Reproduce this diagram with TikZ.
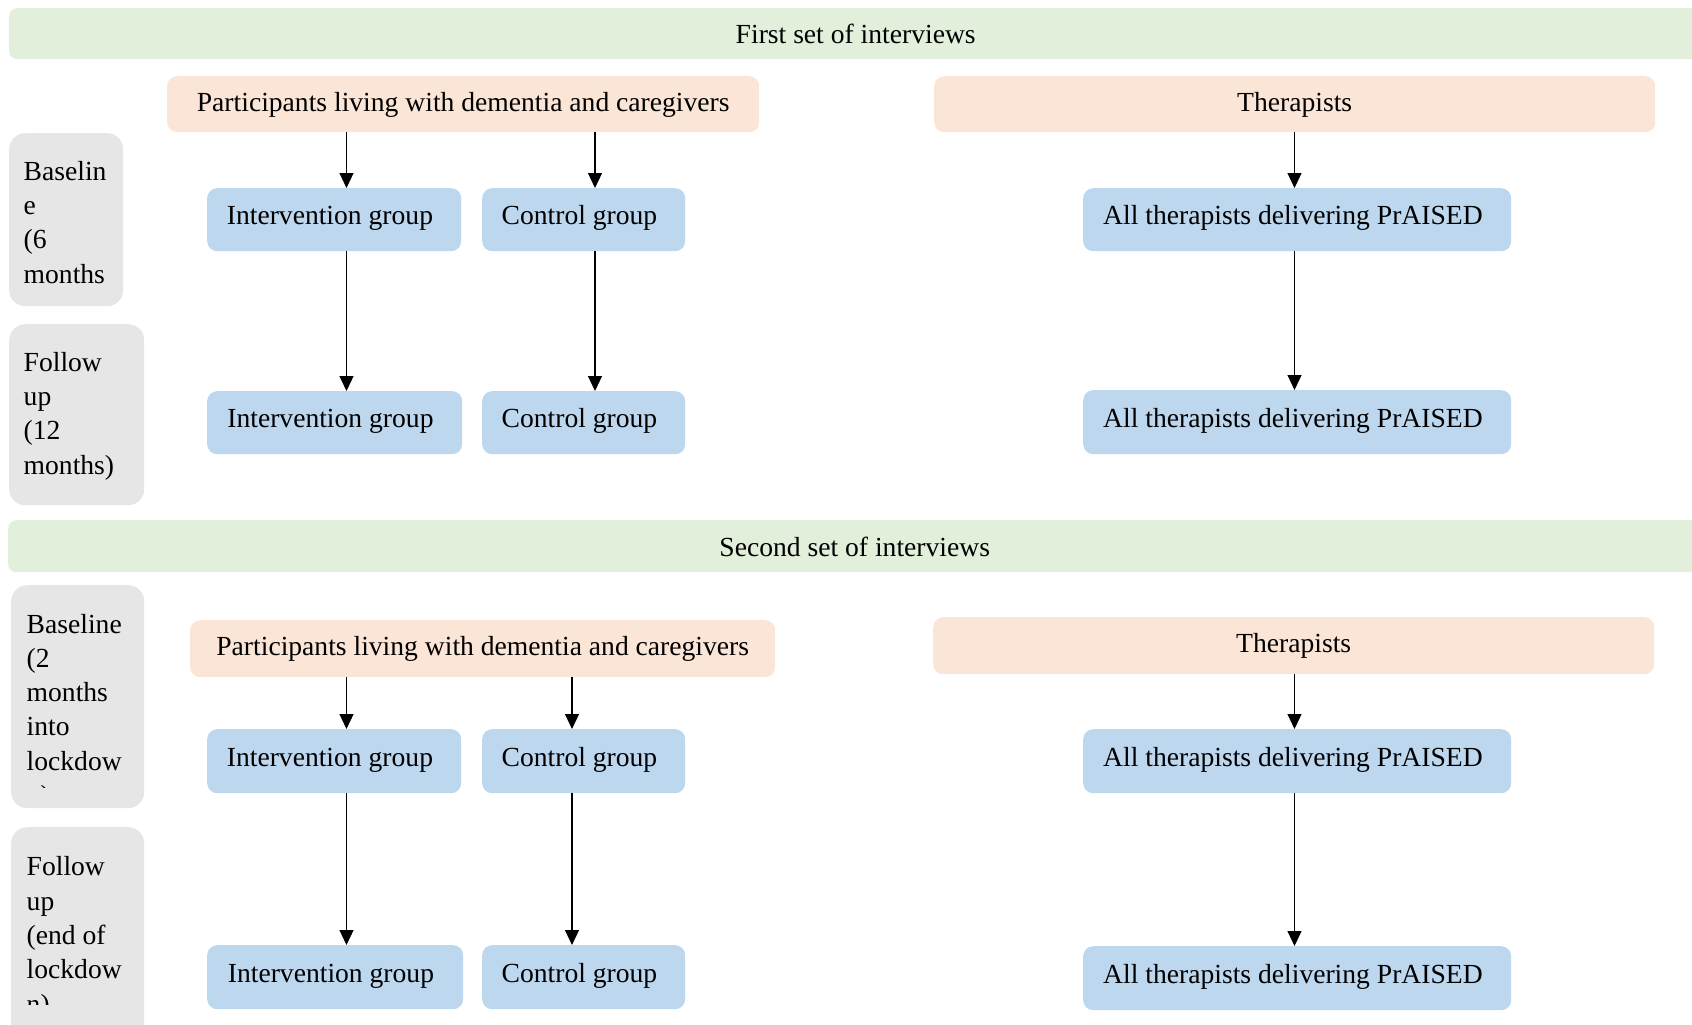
\documentclass[tikz,border=0pt]{standalone}
\usepackage{fontspec}
\setmainfont{Liberation Serif}
\usetikzlibrary{arrows.meta}
\definecolor{bandgreen}{HTML}{E2EFDA}
\definecolor{peach}{HTML}{FBE5D6}
\definecolor{lblue}{HTML}{BDD7EE}
\definecolor{lgray}{HTML}{E7E6E6}
\begin{document}
\begin{tikzpicture}[x=1pt,y=-1pt,
  every node/.style={font=\fontsize{27.6}{34.3}\selectfont, inner sep=0pt, anchor=north west},
  band/.style={fill=bandgreen, rounded corners=8pt, text height=20pt, text depth=0pt},
  grp/.style={fill=peach, rounded corners=10pt, text height=20pt, text depth=6pt},
  sub/.style={fill=lblue, rounded corners=10pt, text height=20pt, text depth=10pt,
    execute at end node={\hspace*{8.5pt}}},
  stage/.style={fill=lgray, rounded corners=16pt},
  lbl/.style={align=left, anchor=base west},
  arr/.style={draw=black, line width=1.2pt, -{Triangle[length=15pt,width=14pt]}}
]
\useasboundingbox (0,0) rectangle (1692,1025);

% bands
\node[band, minimum width=1693pt, minimum height=51pt] (b1) at (9,8) {First set of interviews};
\node[band, minimum width=1693pt, minimum height=52pt] (b2) at (8,520) {Second set of interviews};

% stage boxes
\node[stage, minimum width=114pt, minimum height=173pt] (s1) at (9,133) {};
\node[stage, minimum width=135pt, minimum height=181pt] (s2) at (9,324) {};
\node[stage, minimum width=133pt, minimum height=223pt] (s3) at (11,585) {};
\node[stage, minimum width=133pt, minimum height=230pt] (s4) at (11,827) {};

% multi-line labels: base anchor = baseline of last line
\node[lbl] (t1) at (23.5,283) {Baselin\\e\\(6\\months};
\node[lbl] (t2) at (23.5,474) {Follow\\up\\(12\\months)};
\begin{scope}
\clip (11,590) rectangle (144,787);
\node[lbl] (t3) at (26.5,804.5) {Baseline\\(2\\months\\into\\lockdow\\n)};
\end{scope}
\begin{scope}
\clip (11,830) rectangle (144,1004);
\node[lbl] (t4) at (26.5,1013) {Follow\\up\\(end of\\lockdow\\n)};
\end{scope}

% first set
\node[grp, minimum width=592pt, minimum height=56pt] (p1) at (167,76) {Participants living with dementia and caregivers};
\node[grp, minimum width=721pt, minimum height=56pt] (th1) at (934,76) {Therapists};
\node[sub, minimum width=254pt, minimum height=63pt] (i1) at (207,188) {Intervention group};
\node[sub, minimum width=203pt, minimum height=63pt] (c1) at (482,188) {Control group};
\node[sub, minimum width=428pt, minimum height=63pt] (a1) at (1083,188) {All therapists delivering PrAISED};
\node[sub, minimum width=255pt, minimum height=63pt] (i2) at (207,391) {Intervention group};
\node[sub, minimum width=203pt, minimum height=63pt] (c2) at (482,391) {Control group};
\node[sub, minimum width=428pt, minimum height=64pt] (a2) at (1083,390) {All therapists delivering PrAISED};

% second set
\node[grp, minimum width=585pt, minimum height=57pt] (p3) at (190,620) {Participants living with dementia and caregivers};
\node[grp, minimum width=721pt, minimum height=57pt] (th3) at (933,617) {Therapists};
\node[sub, minimum width=254pt, minimum height=64pt] (i3) at (207,729) {Intervention group};
\node[sub, minimum width=203pt, minimum height=64pt] (c3) at (482,729) {Control group};
\node[sub, minimum width=428pt, minimum height=64pt] (a3) at (1083,729) {All therapists delivering PrAISED};
\node[sub, minimum width=256pt, minimum height=64pt] (i4) at (207,945) {Intervention group};
\node[sub, minimum width=203pt, minimum height=64pt] (c4) at (482,945) {Control group};
\node[sub, minimum width=428pt, minimum height=64pt] (a4) at (1083,946) {All therapists delivering PrAISED};

% arrow columns
\coordinate (xa) at (346.5,0);
\coordinate (xb) at (595,0);
\coordinate (xc) at (1294.5,0);
\coordinate (xd) at (572,0);

\draw[arr] (p1.south -| xa) -- (i1.north -| xa);
\draw[arr] (p1.south -| xb) -- (c1.north -| xb);
\draw[arr] (th1.south -| xc) -- (a1.north -| xc);
\draw[arr] (i1.south -| xa) -- (i2.north -| xa);
\draw[arr] (c1.south -| xb) -- (c2.north -| xb);
\draw[arr] (a1.south -| xc) -- (a2.north -| xc);

\draw[arr] (p3.south -| xa) -- (i3.north -| xa);
\draw[arr] (p3.south -| xd) -- (c3.north -| xd);
\draw[arr] (th3.south -| xc) -- (a3.north -| xc);
\draw[arr] (i3.south -| xa) -- (i4.north -| xa);
\draw[arr] (c3.south -| xd) -- (c4.north -| xd);
\draw[arr] (a3.south -| xc) -- (a4.north -| xc);
\end{tikzpicture}
\end{document}
